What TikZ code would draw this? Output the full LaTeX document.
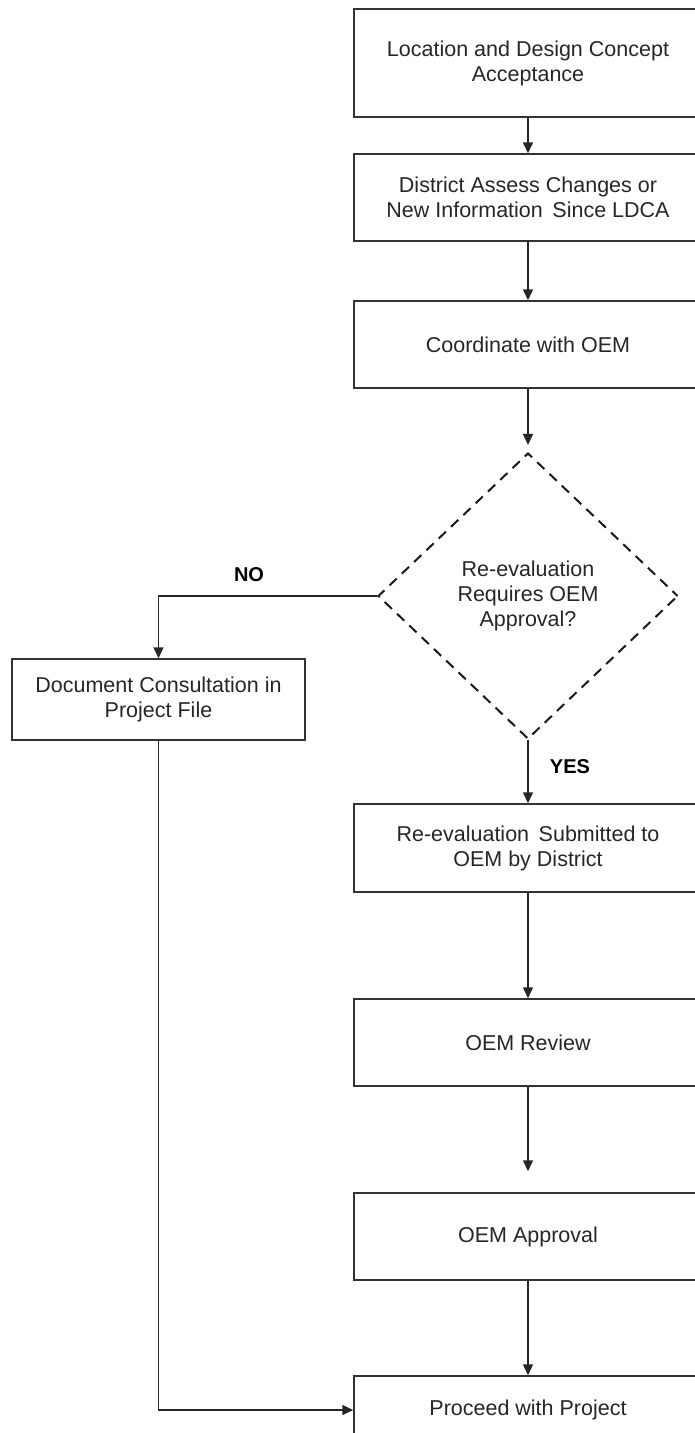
\documentclass[tikz,border=0pt]{standalone}
\usepackage{fontspec}
\setmainfont{Liberation Sans}
\usetikzlibrary{shapes.geometric,arrows.meta}
\begin{document}
\begin{tikzpicture}[x=1pt,y=-1pt,
  every node/.style={font=\fontsize{21.5}{25}\selectfont, text=black!85},
  box/.style={draw=black!80, line width=1.5pt, rectangle, minimum width=348pt, align=center, inner sep=0pt},
  lbox/.style={draw=black!80, line width=1.5pt, rectangle, align=center, inner sep=0pt},
  dia/.style={draw=black!90, line width=2pt, dash pattern=on 10pt off 7pt, dash phase=3pt, diamond, minimum width=300pt, minimum height=286pt, inner sep=0pt, align=center},
  conn/.style={draw=black!85, line width=1.5pt, -{Triangle[length=11pt,width=10pt]}},
  lab/.style={font=\fontsize{20}{24}\selectfont\bfseries, text=black}
]
\useasboundingbox (0,0) rectangle (694,1433);
\node[box, minimum height=108pt] (b1) at (528,63) {Location and Design Concept\\Acceptance};
\node[box, minimum height=87pt] (b2) at (528,197.5) {District Assess Changes or\\New Information\, Since LDCA};
\node[box, minimum height=87pt] (b3) at (528,344.5) {Coordinate with OEM};
\node[dia] (d) at (528,596) {Re-evaluation\\Requires OEM\\Approval?};
\node[lbox, minimum width=293pt, minimum height=81pt] (doc) at (158.5,699.5) {Document Consultation in\\Project File};
\node[box, minimum height=88pt] (b4) at (528,848) {Re-evaluation\, Submitted to\\OEM by District};
\node[box, minimum height=87pt] (b5) at (528,1042.5) {OEM Review};
\node[box, minimum height=87pt] (b6) at (528,1236.5) {OEM Approval};
\node[box, minimum height=68pt] (b7) at (528,1410) {Proceed with Project};

\draw[conn] (b1) -- (b2);
\draw[conn] (b2) -- (b3);
\draw[conn, shorten >=7pt] (b3) -- (d);
\draw[conn] (d.west) -| (doc.north);
\draw[conn] (d.south) -- (b4.north);
\draw[conn] (b4) -- (b5);
\draw[conn, shorten >=21pt] (b5) -- (b6);
\draw[conn] (b6) -- (b7);
\draw[conn] (doc.south) |- (b7.west);

\node[lab] (no) at (249,575) {NO};
\node[lab] (yes) at (570,767) {YES};
\end{tikzpicture}
\end{document}
